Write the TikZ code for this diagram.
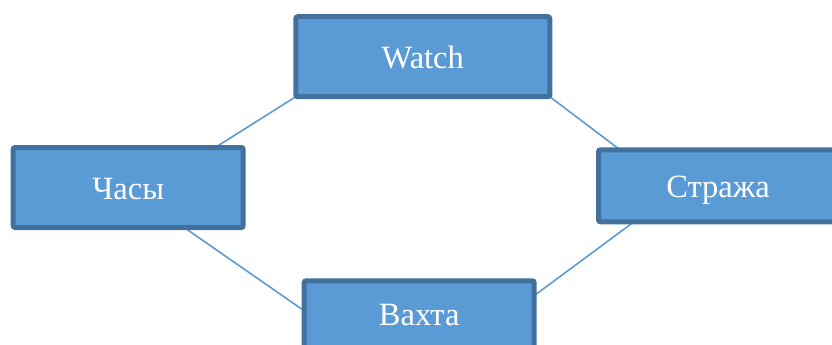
\documentclass[tikz,border=0pt]{standalone}
\usepackage{fontspec}
\setmainfont{Liberation Serif}
\definecolor{boxfill}{HTML}{5B9BD5}
\definecolor{boxedge}{HTML}{41719C}
\definecolor{linkcol}{HTML}{5B9BD5}
\pgfdeclarelayer{background}
\pgfsetlayers{background,main}
\begin{document}
\begin{tikzpicture}[x=1pt,y=-1pt,
  wbox/.style={draw=boxedge, fill=boxfill, line width=5pt, rounded corners=2pt,
    text=white, font=\fontsize{32.5}{32.5}\selectfont, text height=23pt, text depth=0pt,
    inner sep=0pt, outer sep=0pt, anchor=center},
  link/.style={draw=linkcol, line width=1.6pt}]
\useasboundingbox (0,0) rectangle (832,345);
\clip (0,0) rectangle (832,345);
\node[wbox, minimum width=254pt, minimum height=80pt] (watch) at (422.8,56.7) {Watch};
\node[wbox, minimum width=230pt, minimum height=80pt] (chasy) at (128.2,187.5) {Часы};
\node[wbox, minimum width=239pt, minimum height=72pt] (strazha) at (718,185.8) {Стража};
\node[wbox, minimum width=230pt, minimum height=72pt, text depth=6.6pt] (vakhta) at (419.2,316.8) {Вахта};
\begin{pgfonlayer}{background}
\draw[link] (watch.south west) -- ([xshift=-28pt]chasy.north east);
\draw[link] (watch.south east) -- ([xshift=21.5pt]strazha.north west);
\draw[link] ([xshift=171pt]chasy.south west) -- ([yshift=-30pt]vakhta.north west);
\draw[link] ([xshift=35.5pt]strazha.south west) -- ([yshift=-14.8pt]vakhta.north east);
\end{pgfonlayer}
\end{tikzpicture}
\end{document}
